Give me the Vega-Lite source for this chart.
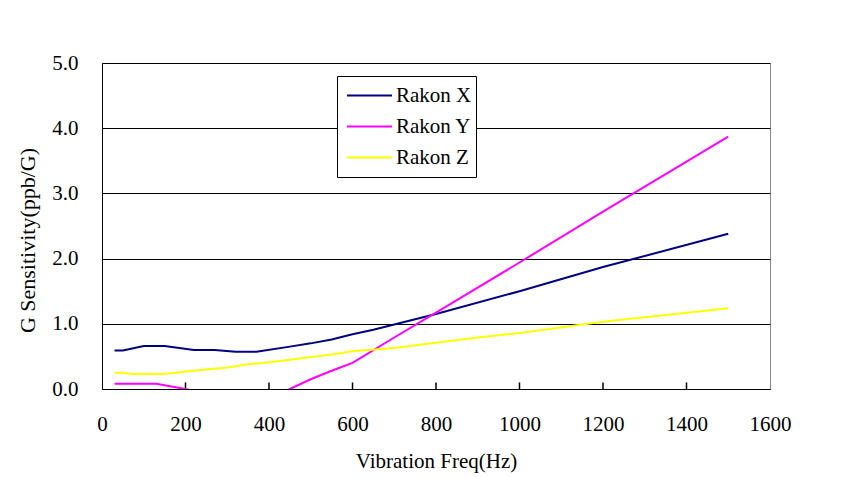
{
  "$schema": "https://vega.github.io/schema/vega-lite/v6.json",
  "width": 668,
  "height": 326,
  "autosize": {"type": "none"},
  "padding": {"left": 102, "top": 63, "right": 74, "bottom": 88},
  "background": "white",
  "config": {
    "font": "Liberation Serif, Times New Roman, serif",
    "view": {"stroke": "#888888", "strokeWidth": 1},
    "axis": {
      "labelFont": "Liberation Serif, Times New Roman, serif",
      "titleFont": "Liberation Serif, Times New Roman, serif",
      "labelFontSize": 21,
      "titleFontSize": 21,
      "titleFontWeight": "normal",
      "labelColor": "black",
      "titleColor": "black",
      "domainColor": "black",
      "tickColor": "black"
    },
    "legend": {
      "labelFont": "Liberation Serif, Times New Roman, serif",
      "labelFontSize": 21,
      "labelColor": "black"
    }
  },
  "datasets": {
    "ticks": [
      {"freq": 200}, {"freq": 400}, {"freq": 600}, {"freq": 800},
      {"freq": 1000}, {"freq": 1200}, {"freq": 1400}
    ],
    "series": [
      {"series": "Rakon X", "freq": 30, "value": 0.59},
      {"series": "Rakon X", "freq": 50, "value": 0.59},
      {"series": "Rakon X", "freq": 100, "value": 0.66},
      {"series": "Rakon X", "freq": 150, "value": 0.66},
      {"series": "Rakon X", "freq": 220, "value": 0.60},
      {"series": "Rakon X", "freq": 270, "value": 0.60},
      {"series": "Rakon X", "freq": 320, "value": 0.57},
      {"series": "Rakon X", "freq": 370, "value": 0.57},
      {"series": "Rakon X", "freq": 450, "value": 0.65},
      {"series": "Rakon X", "freq": 500, "value": 0.70},
      {"series": "Rakon X", "freq": 550, "value": 0.76},
      {"series": "Rakon X", "freq": 600, "value": 0.84},
      {"series": "Rakon X", "freq": 650, "value": 0.91},
      {"series": "Rakon X", "freq": 700, "value": 0.99},
      {"series": "Rakon X", "freq": 800, "value": 1.15},
      {"series": "Rakon X", "freq": 1000, "value": 1.50},
      {"series": "Rakon X", "freq": 1200, "value": 1.87},
      {"series": "Rakon X", "freq": 1500, "value": 2.38},
      {"series": "Rakon Y", "freq": 30, "value": 0.08},
      {"series": "Rakon Y", "freq": 50, "value": 0.08},
      {"series": "Rakon Y", "freq": 130, "value": 0.08},
      {"series": "Rakon Y", "freq": 200, "value": 0.0},
      {"series": "Rakon Y", "freq": 250, "value": -0.08},
      {"series": "Rakon Y", "freq": 300, "value": -0.15},
      {"series": "Rakon Y", "freq": 350, "value": -0.2},
      {"series": "Rakon Y", "freq": 400, "value": -0.15},
      {"series": "Rakon Y", "freq": 450, "value": 0.0},
      {"series": "Rakon Y", "freq": 500, "value": 0.15},
      {"series": "Rakon Y", "freq": 550, "value": 0.28},
      {"series": "Rakon Y", "freq": 600, "value": 0.40},
      {"series": "Rakon Y", "freq": 700, "value": 0.79},
      {"series": "Rakon Y", "freq": 800, "value": 1.17},
      {"series": "Rakon Y", "freq": 1000, "value": 1.94},
      {"series": "Rakon Y", "freq": 1200, "value": 2.72},
      {"series": "Rakon Y", "freq": 1500, "value": 3.87},
      {"series": "Rakon Z", "freq": 30, "value": 0.25},
      {"series": "Rakon Z", "freq": 50, "value": 0.25},
      {"series": "Rakon Z", "freq": 70, "value": 0.23},
      {"series": "Rakon Z", "freq": 150, "value": 0.23},
      {"series": "Rakon Z", "freq": 200, "value": 0.27},
      {"series": "Rakon Z", "freq": 250, "value": 0.30},
      {"series": "Rakon Z", "freq": 300, "value": 0.33},
      {"series": "Rakon Z", "freq": 350, "value": 0.38},
      {"series": "Rakon Z", "freq": 400, "value": 0.41},
      {"series": "Rakon Z", "freq": 450, "value": 0.45},
      {"series": "Rakon Z", "freq": 500, "value": 0.49},
      {"series": "Rakon Z", "freq": 550, "value": 0.53},
      {"series": "Rakon Z", "freq": 600, "value": 0.58},
      {"series": "Rakon Z", "freq": 700, "value": 0.63},
      {"series": "Rakon Z", "freq": 800, "value": 0.71},
      {"series": "Rakon Z", "freq": 900, "value": 0.79},
      {"series": "Rakon Z", "freq": 1000, "value": 0.86},
      {"series": "Rakon Z", "freq": 1200, "value": 1.03},
      {"series": "Rakon Z", "freq": 1500, "value": 1.24}
    ]
  },
  "layer": [
    {
      "data": {"name": "ticks"},
      "mark": {"type": "rule", "color": "black", "strokeWidth": 1.5},
      "encoding": {
        "x": {"field": "freq", "type": "quantitative"},
        "y": {"datum": 0, "type": "quantitative"},
        "y2": {"datum": 0.1}
      }
    },
    {
      "data": {"name": "series"},
      "mark": {"type": "line", "strokeWidth": 2, "clip": true},
      "encoding": {
        "x": {
          "field": "freq",
          "type": "quantitative",
          "scale": {"domain": [0, 1600], "nice": false},
          "axis": {
            "title": "Vibration Freq(Hz)",
            "values": [0, 200, 400, 600, 800, 1000, 1200, 1400, 1600],
            "format": "d",
            "grid": false,
            "ticks": false,
            "labelPadding": 24,
            "titlePadding": 16,
            "labelFlush": false
          }
        },
        "y": {
          "field": "value",
          "type": "quantitative",
          "scale": {"domain": [0, 5], "nice": false},
          "axis": {
            "title": "G Sensitivity(ppb/G)",
            "values": [0, 1, 2, 3, 4, 5],
            "format": ".1f",
            "grid": true,
            "gridColor": "black",
            "gridOpacity": 1,
            "ticks": false,
            "labelPadding": 24,
            "titlePadding": 12,
            "titleFontSize": 22,
            "titleY": 177,
            "labelFlush": false
          }
        },
        "color": {
          "field": "series",
          "type": "nominal",
          "scale": {"domain": ["Rakon X", "Rakon Y", "Rakon Z"], "range": ["#000080", "#ff00ff", "#ffff00"]},
          "legend": {
            "title": null,
            "orient": "none",
            "legendX": 235,
            "legendY": 13,
            "symbolType": "stroke",
            "symbolSize": 2025,
            "symbolStrokeWidth": 2,
            "symbolOffset": 5,
            "clipHeight": 31,
            "strokeColor": "black",
            "fillColor": "white",
            "padding": 4,
            "rowPadding": 0,
            "labelOffset": 3
          }
        }
      }
    }
  ]
}
